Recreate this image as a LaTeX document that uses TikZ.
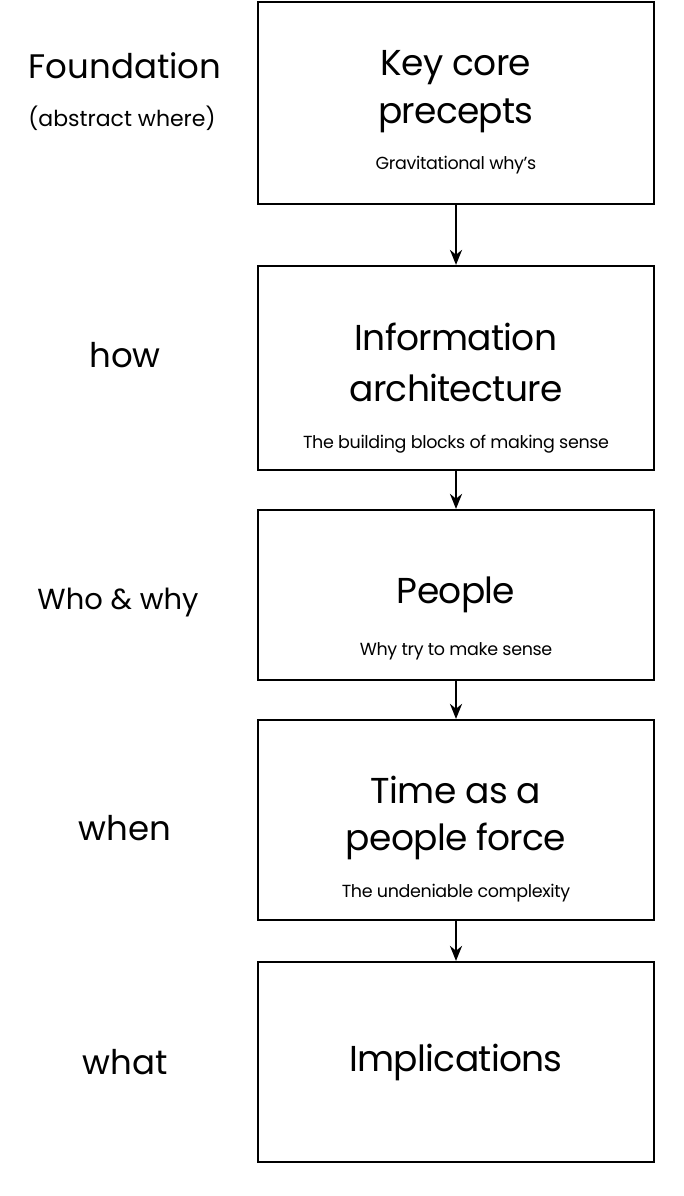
\documentclass[tikz,border=0pt]{standalone}
\usepackage{fontspec}
\setmainfont{Poppins}
\usetikzlibrary{arrows.meta}
\begin{document}
\begin{tikzpicture}[x=1pt,y=-1pt,
    stage/.style={draw=black, line width=2.2pt, minimum width=396pt, inner sep=0pt},
    title/.style={font=\fontsize{36}{40}\selectfont\addfontfeature{LetterSpace=-2}},
    sub/.style={font=\fontsize{17.5}{20}\selectfont\addfontfeature{LetterSpace=-2}},
    side/.style={font=\fontsize{34}{38}\selectfont},
    >={Stealth[length=15pt,width=12pt]}]
  \useasboundingbox (0,0) rectangle (684,1196);
  % boxes
  \node[stage, minimum height=202pt] (b1) at (456,103) {};
  \node[stage, minimum height=204pt] (b2) at (456,368) {};
  \node[stage, minimum height=170pt] (b3) at (456,595) {};
  \node[stage, minimum height=200pt] (b4) at (456,820) {};
  \node[stage, minimum height=200pt] (b5) at (456,1062) {};
  % box texts
  \node[title] (t1a) at (456,68) {Key core};
  \node[title] (t1b) at (456,116) {precepts};
  \node[sub] (s1) at (456,165) {Gravitational why’s};
  \node[title] (t2a) at (456,337) {Information};
  \node[title] (t2b) at (456,388) {architecture};
  \node[sub] (s2) at (456,444) {The building blocks of making sense};
  \node[title] (t3) at (456,595) {People};
  \node[sub] (s3) at (456,651) {Why try to make sense};
  \node[title] (t4a) at (456,790) {Time as a};
  \node[title] (t4b) at (456,841) {people force};
  \node[sub] (s4) at (456,893) {The undeniable complexity};
  \node[title] (t5) at (456,1062) {Implications};
  % side labels
  \node[side] (l1) at (125,66) {Foundation};
  \node[font=\fontsize{22}{24}\selectfont] (l1b) at (122,118) {(abstract where)};
  \node[side] (l2) at (125,355) {how};
  \node[font=\fontsize{29}{32}\selectfont] (l3) at (118,603) {Who \& why};
  \node[side] (l4) at (125,828) {when};
  \node[side] (l5) at (125,1062) {what};
  % arrows
  \foreach \a/\b in {b1/b2,b2/b3,b3/b4,b4/b5}
    \draw[->, line width=2.4pt] (\a.south) -- (\b.north);
\end{tikzpicture}
\end{document}
